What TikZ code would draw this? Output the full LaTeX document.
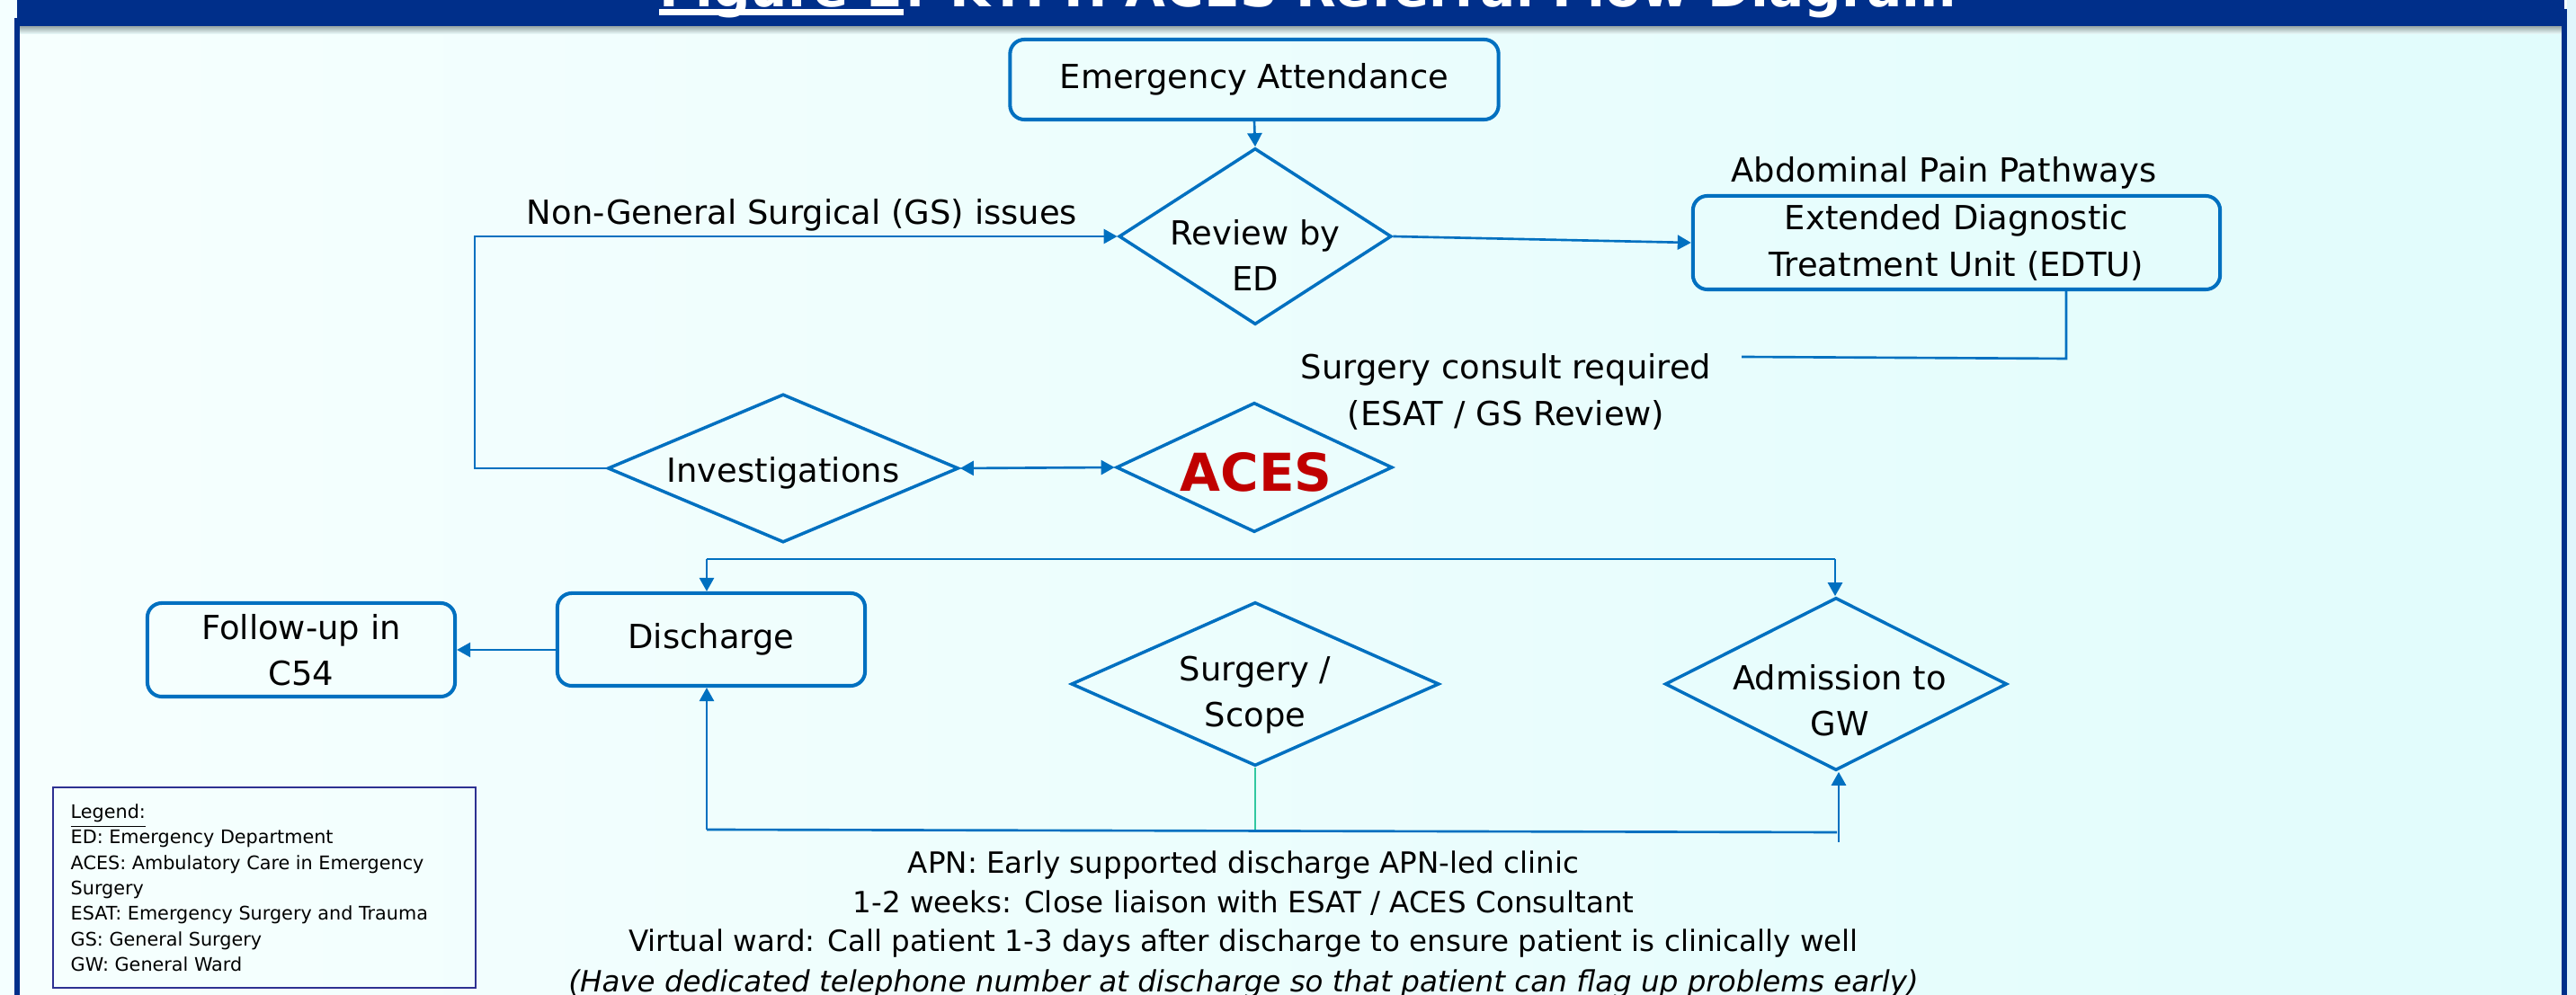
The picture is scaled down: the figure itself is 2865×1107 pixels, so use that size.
\documentclass[tikz,border=0pt]{standalone}
\usepackage{fontspec}
\setmainfont{DejaVu Sans}
\usetikzlibrary{shapes.geometric,arrows.meta,calc}

\definecolor{boxblue}{RGB}{0,112,192}
\definecolor{titleblue}{RGB}{0,47,138}
\definecolor{acesred}{RGB}{192,0,0}
\definecolor{legendline}{RGB}{46,49,146}
\definecolor{tealline}{RGB}{50,200,160}
\definecolor{paneleft}{RGB}{246,255,254}
\definecolor{panelright}{RGB}{225,252,252}
\definecolor{outerleft}{RGB}{244,255,255}
\definecolor{outerright}{RGB}{224,245,252}

\newcommand\mainlbl{\fontsize{10.5}{14.6}\selectfont}
\newcommand\notelbl{\fontsize{9.25}{12.5}\selectfont}
\newcommand\legendlbl{\fontsize{5.9}{8.05}\selectfont}
\newcommand\titlelbl{\fontsize{16.5}{20}\selectfont\bfseries}

\begin{document}
\begin{tikzpicture}[x=0.01cm,y=-0.01cm,
  rbox/.style={rectangle, draw=boxblue, line width=1.15pt, rounded corners=1.6mm,
               inner sep=0pt, align=center, font=\mainlbl},
  dia/.style={diamond, draw=boxblue, line width=1pt, inner sep=0pt},
  lbl/.style={inner sep=0pt, align=center, font=\mainlbl},
  note/.style={inner sep=0pt, anchor=base, font=\notelbl},
  conn/.style={draw=boxblue, line width=0.75pt},
  arr/.style={conn, -{Triangle[length=1.5mm,width=1.6mm]}},
  dblarr/.style={conn, {Triangle[length=1.5mm,width=1.6mm]}-{Triangle[length=1.5mm,width=1.6mm]}},
  titletext/.style={inner sep=0pt, anchor=base west, text=white, font=\titlelbl}]

\useasboundingbox (0,0) rectangle (2865,1107);
\clip (0,0) rectangle (2865,1107);

% page background, panel and frame
\fill[outerleft] (0,0) rectangle (2865,1107);
\fill[outerright] (2855,0) rectangle (2865,1107);
\shade[left color=paneleft, right color=panelright] (22,29) rectangle (2849,1107);
\shade[top color={rgb,255:red,150;green,165;blue,165}, bottom color=paneleft!60!panelright]
  (22,29) rectangle (2849,38);
\fill[titleblue] (16,20) rectangle (22,1107);
\fill[titleblue] (2849,10) rectangle (2855,1107);
\fill[titleblue] (19,0) rectangle (2852,29);

% title
\node[titletext] (figt) at (733,8) {Figure 2};
\node[titletext] (titt) at (figt.base east) {: KTPH ACES Referral Flow Diagram};
\draw[white, line width=2pt] ([yshift=-0.55mm]figt.base west) -- ([yshift=-0.55mm]figt.base east);

% boxes
\node[rbox, minimum width=54.3mm, minimum height=8.9mm] (ea) at (1395,88.5) {Emergency Attendance};
\node[rbox, minimum width=58.6mm, minimum height=10.4mm] (edtu) at (2176,270)
  {Extended Diagnostic\\Treatment Unit (EDTU)};
\node[rbox, minimum width=34.2mm, minimum height=10.3mm] (dis) at (791,711.5) {Discharge};
\node[rbox, minimum width=34.2mm, minimum height=10.4mm] (fu) at (335,723) {Follow-up in\\C54};

% decision diamonds and their texts
\node[dia, minimum width=30.3mm, minimum height=19.6mm] (rev) at (1396,263) {};
\node[lbl] (revt) at (1396,284) {Review by\\ED};
\node[dia, minimum width=39mm, minimum height=16.5mm] (inv) at (871,521) {};
\node[lbl] (invt) at (871,526) {Investigations};
\node[dia, minimum width=30.7mm, minimum height=14.4mm] (aces) at (1395,520) {};
\node[inner sep=0pt, text=acesred, font=\fontsize{16.5}{20}\selectfont\bfseries] (acest) at (1397,525) {ACES};
\node[dia, minimum width=40.9mm, minimum height=18.2mm] (ss) at (1396,761) {};
\node[lbl] (sst) at (1396,773) {Surgery /\\Scope};
\node[dia, minimum width=38mm, minimum height=19.2mm] (adm) at (2042,761) {};
\node[lbl] (admt) at (2046,779) {Admission to\\GW};

% free labels
\node[lbl] (app) at (2162,192) {Abdominal Pain Pathways};
\node[lbl] (ngst) at (892,239) {Non-General Surgical (GS) issues};
\node[lbl] (sct) at (1675,436) {Surgery consult required\\(ESAT / GS Review)};

% connectors
\draw[arr] (ea.south) -- (rev.north);
\draw[arr] (rev.east) -- (edtu.west);
\coordinate (ngs) at (528,0);
\draw[arr] (inv.west) -- (inv.west -| ngs) -- (rev.west -| ngs) -- (rev.west);
\draw[dblarr] (inv.east) -- (aces.west);
\coordinate (ec1) at (2298,399);
\coordinate (ec2) at (1937,397);
\draw[conn] (edtu.south -| ec1) -- (ec1) -- (ec2);

\coordinate (t1) at (786,622);
\coordinate (t2) at (2041,622);
\draw[conn] (t1) -- (t2);
\draw[arr] (t1) -- (t1 |- dis.north);
\draw[arr] (t2) -- (t2 |- adm.north);
\draw[arr] (dis.west |- fu.east) -- (fu.east);

\coordinate (b1) at (786,923);
\coordinate (b2) at (2043,926);
\coordinate (b3) at (2045,937);
\draw[conn] (b1) -- (b2);
\draw[arr] (b1) -- (b1 |- dis.south);
\draw[arr] (b3) -- (b3 |- adm.south);
\draw[tealline, line width=0.45pt] (ss.south) -- (ss.south |- b1);

% notes under the flow
\node[note] (n1) at (1383,972) {APN: Early supported discharge APN-led clinic};
\node[note] (n2) at (1383,1016) {1-2 weeks: Close liaison with ESAT / ACES Consultant};
\node[note] (n3) at (1383,1059) {Virtual ward: Call patient 1-3 days after discharge to ensure patient is clinically well};
\node[note, font=\notelbl\itshape] (n4) at (1383,1104) {(Have dedicated telephone number at discharge so that patient can flag up problems early)};

% legend
\node[draw=legendline, line width=0.5pt, rectangle, minimum width=47mm, minimum height=22.3mm,
      anchor=north west, inner sep=0pt] (leg) at (58,875) {};
\node[anchor=north west, inner sep=0pt, align=left, font=\legendlbl] (legt) at (78,894)
  {\underline{Legend:}\\ED: Emergency Department\\ACES: Ambulatory Care in Emergency\\Surgery\\ESAT: Emergency Surgery and Trauma\\GS: General Surgery\\GW: General Ward};

\end{tikzpicture}
\end{document}
